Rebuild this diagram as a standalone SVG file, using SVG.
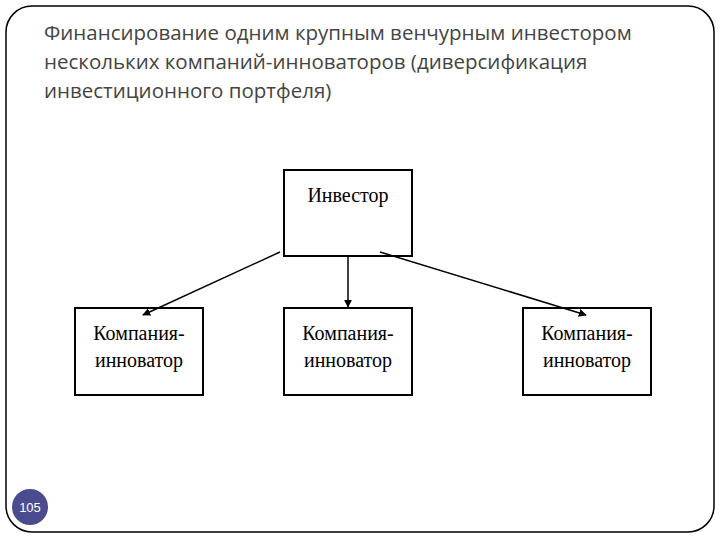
<svg xmlns="http://www.w3.org/2000/svg" width="720" height="540" viewBox="0 0 720 540">
<style>
.t{font-family:"Open Sans","Liberation Sans",sans-serif;font-size:20.5px;fill:#444}
.b{fill:#fff;stroke:#000;stroke-width:2}
.n{font-family:"Liberation Serif",serif;font-size:20px;fill:#000;text-anchor:middle}
.c{stroke:#000;stroke-width:1.5;fill:none;marker-end:url(#a)}
</style>
<defs><marker id="a" viewBox="0 0 10 10" refX="9" refY="5" markerWidth="8" markerHeight="8" orient="auto" markerUnits="userSpaceOnUse"><path d="M0,0 L10,5 L0,10 z" fill="#000"/></marker></defs>
<rect width="720" height="540" fill="#fff"/>
<rect x="6" y="6" width="708" height="526" rx="26" fill="none" stroke="#000" stroke-width="1.5"/>
<g id="title">
<text class="t" x="44" y="40">Финансирование одним крупным венчурным инвестором</text>
<text class="t" x="44" y="69">нескольких компаний-инноваторов (диверсификация</text>
<text class="t" x="44" y="98">инвестиционного портфеля)</text>
</g>
<g id="investor"><rect class="b" x="284" y="170" width="128" height="86"/><text class="n" x="348" y="202">Инвестор</text></g>
<g id="c1"><rect class="b" x="75" y="308" width="128" height="87"/><text class="n" x="139" y="340">Компания-</text><text class="n" x="139" y="367">инноватор</text></g>
<g id="c2"><rect class="b" x="284" y="308" width="128" height="87"/><text class="n" x="348" y="340">Компания-</text><text class="n" x="348" y="367">инноватор</text></g>
<g id="c3"><rect class="b" x="523" y="308" width="128" height="87"/><text class="n" x="587" y="340">Компания-</text><text class="n" x="587" y="367">инноватор</text></g>
<g id="connectors">
<line class="c" x1="280" y1="252" x2="143" y2="315"/>
<line class="c" x1="348" y1="257" x2="348" y2="307"/>
<line class="c" x1="380" y1="252" x2="586" y2="315"/>
</g>
<g id="page"><circle cx="30" cy="507" r="18" fill="#4b4b8f"/><text x="30" y="512" font-family="Liberation Sans,sans-serif" font-size="13" fill="#fff" text-anchor="middle">105</text></g>
</svg>
